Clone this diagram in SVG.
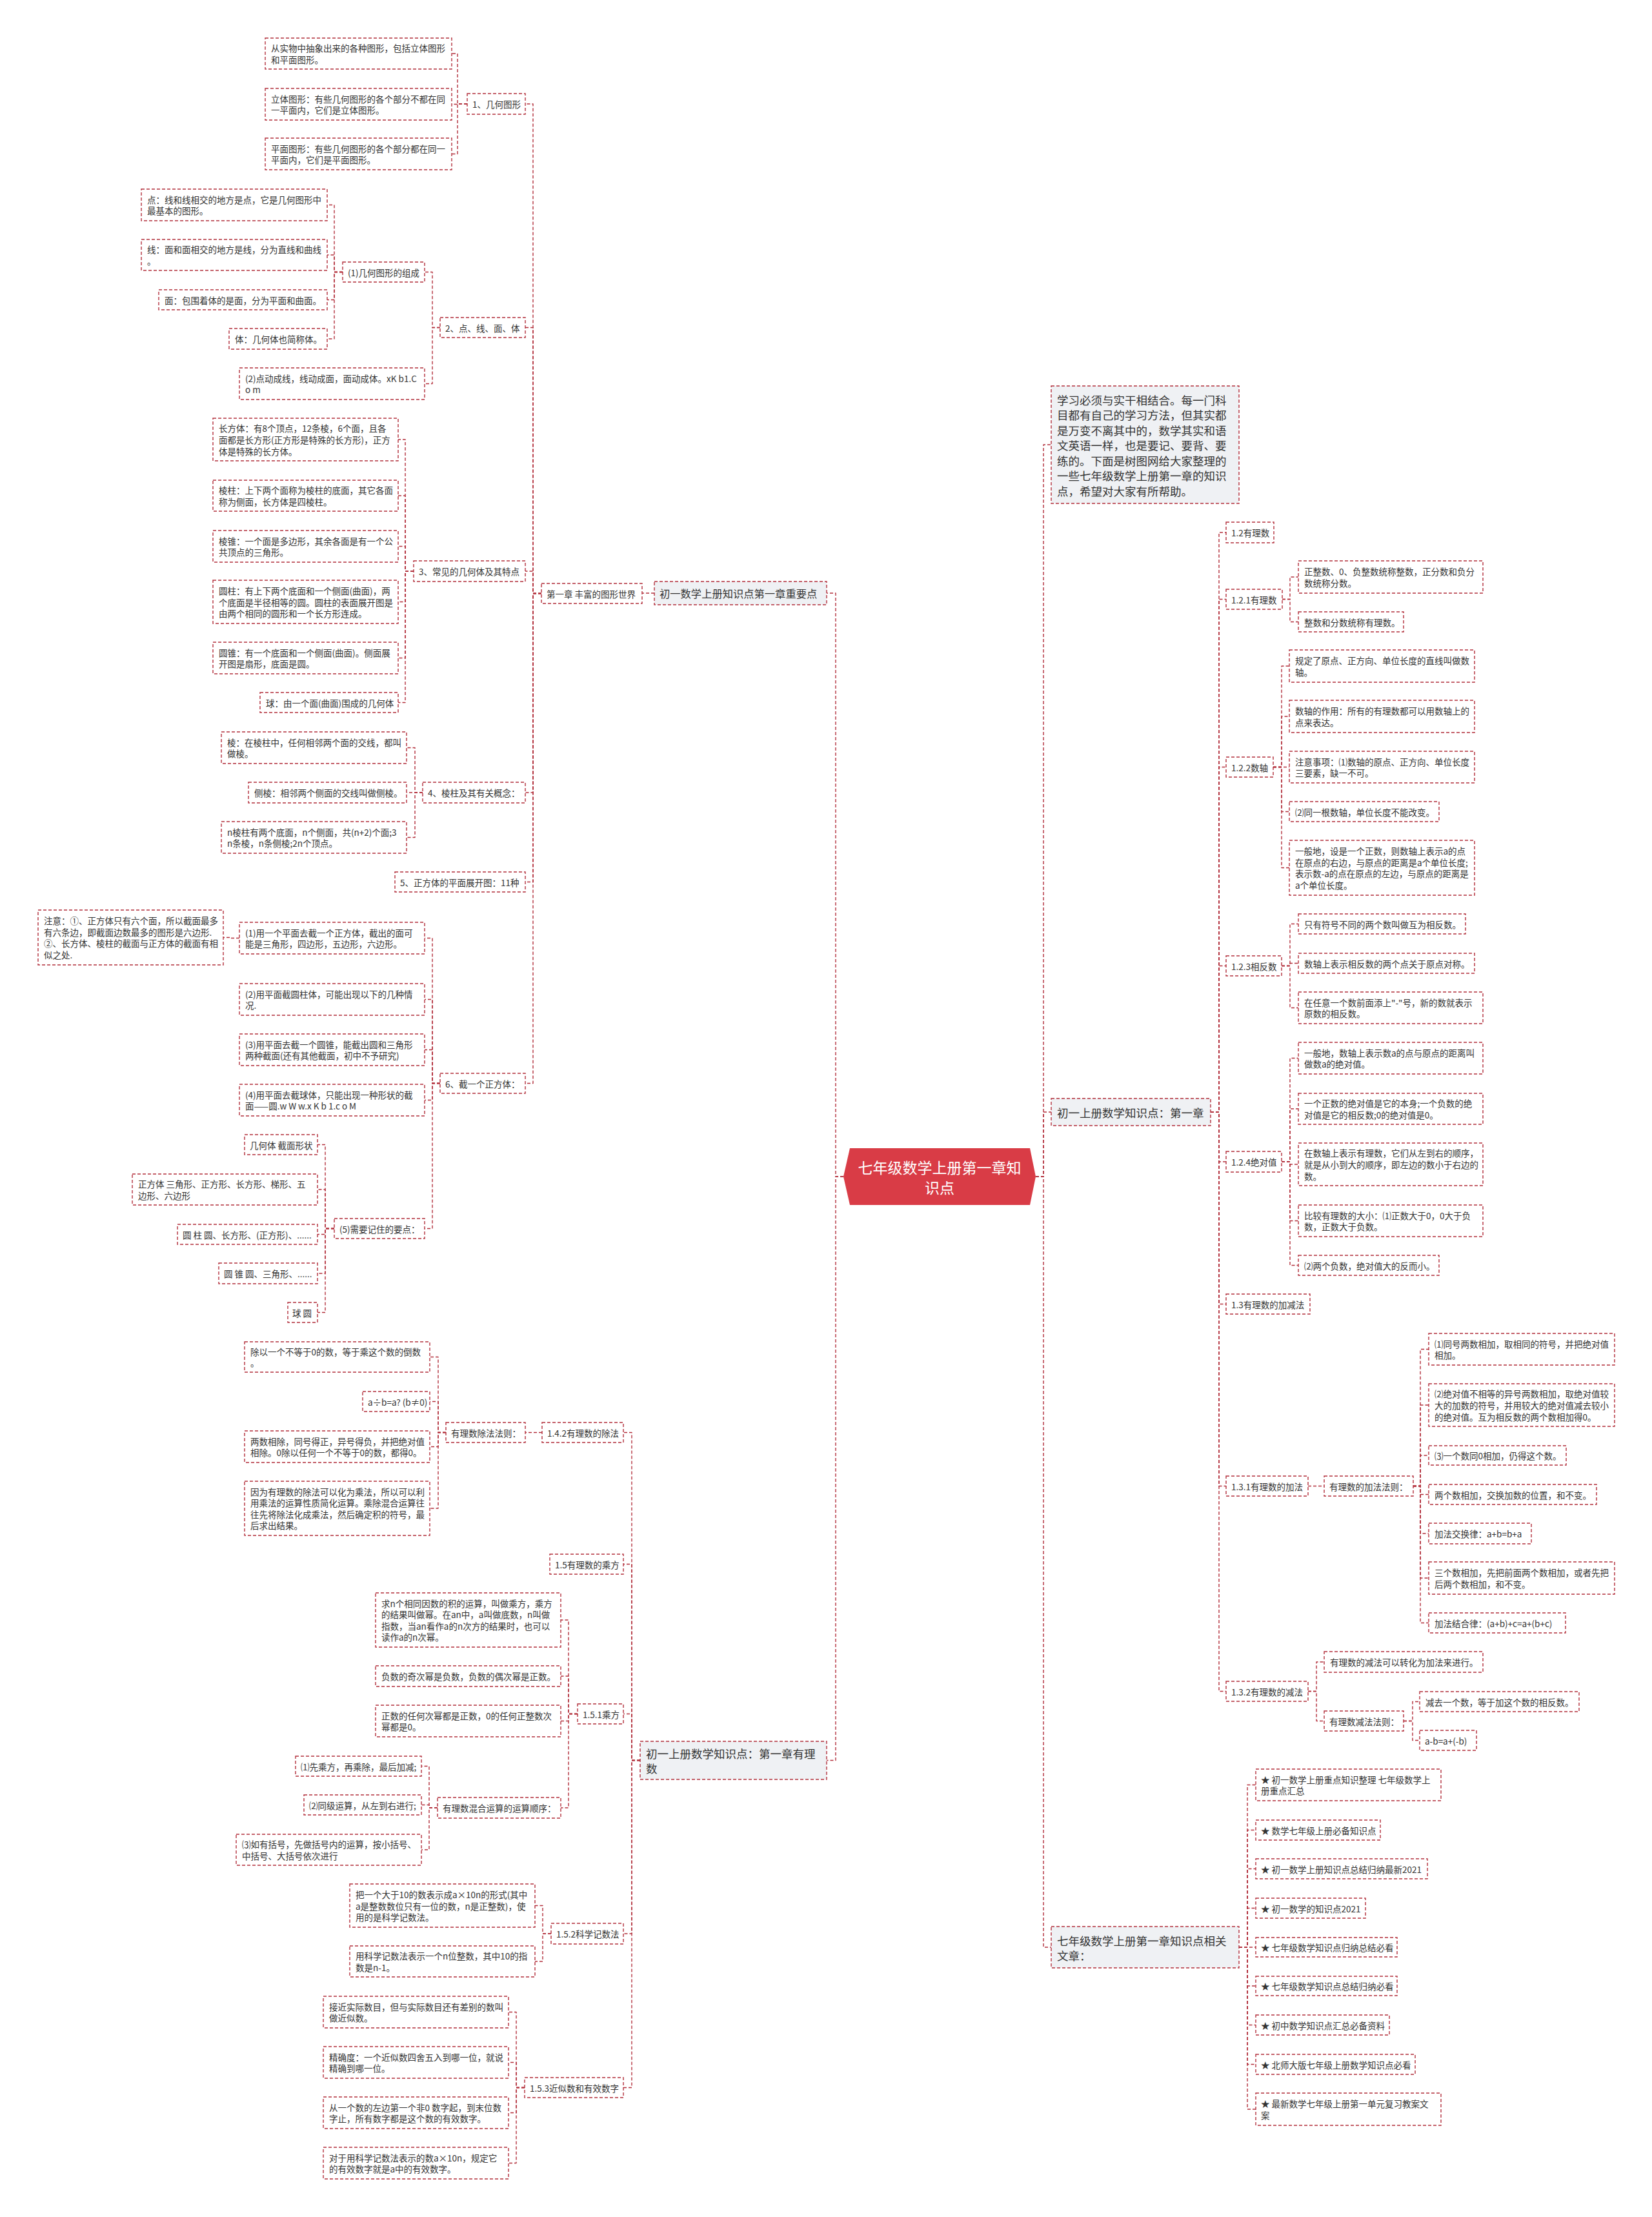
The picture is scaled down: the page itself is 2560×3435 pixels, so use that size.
<svg xmlns="http://www.w3.org/2000/svg" width="2560" height="3435" viewBox="0 0 2560 3435">
<style>
.n rect{fill:#ffffff;stroke:#b3303c;stroke-width:1.4;stroke-dasharray:5 3}
.l1 rect{fill:#eff1f4;stroke:#b3303c;stroke-width:1.4;stroke-dasharray:5 3}
text{font-family:"Noto Sans CJK SC","Noto Sans",sans-serif;fill:#333333;dominant-baseline:central}
.n text{font-size:13.5px}
.l1 text{font-size:17.5px}
.c path{fill:none;stroke:#b3303c;stroke-width:1.4;stroke-dasharray:5 3;stroke-linejoin:round}
.root text{font-size:23px;fill:#ffffff}
</style>
<rect x="0" y="0" width="2560" height="3435" fill="#ffffff"/>
<g class="c" id="connectors">
<path d="M1307 1823H1295V919H1281"/>
<path d="M1307 1823H1295V2727.5H1281"/>
<path d="M1605 1823H1617V689H1629"/>
<path d="M1605 1823H1617V1723H1629"/>
<path d="M1605 1823H1617V3017H1629"/>
<path d="M1014 919H995"/>
<path d="M839 919.5H826V161H814"/>
<path d="M839 919.5H826V507.5H814"/>
<path d="M839 919.5H826V885H814"/>
<path d="M839 919.5H826V1228H814"/>
<path d="M839 919.5H826V1366.5H814"/>
<path d="M839 919.5H826V1678.5H814"/>
<path d="M724 161H709V83H700"/>
<path d="M724 161H709V161.5H700"/>
<path d="M724 161H709V238.5H700"/>
<path d="M682 507.5H670V421.5H658"/>
<path d="M682 507.5H670V594.5H658"/>
<path d="M531 421.5H518V317.5H507"/>
<path d="M531 421.5H518V395H507"/>
<path d="M531 421.5H518V464.5H507"/>
<path d="M531 421.5H518V525H507"/>
<path d="M641 885H628V681H617"/>
<path d="M641 885H628V768H617"/>
<path d="M641 885H628V846.5H617"/>
<path d="M641 885H628V932.5H617"/>
<path d="M641 885H628V1019.5H617"/>
<path d="M641 885H628V1088.5H617"/>
<path d="M655 1228H643V1158.5H630"/>
<path d="M655 1228H643V1228H630"/>
<path d="M655 1228H643V1297.5H630"/>
<path d="M682 1678.5H670V1453.5H658"/>
<path d="M682 1678.5H670V1548.5H658"/>
<path d="M682 1678.5H670V1626.5H658"/>
<path d="M682 1678.5H670V1704.5H658"/>
<path d="M682 1678.5H670V1903.5H658"/>
<path d="M371 1453.5H358V1452.5H346"/>
<path d="M518 1903.5H504V1773.5H492"/>
<path d="M518 1903.5H504V1843H492"/>
<path d="M518 1903.5H504V1912.5H492"/>
<path d="M518 1903.5H504V1973H492"/>
<path d="M518 1903.5H504V2033.5H492"/>
<path d="M992 2727.5H979V2219.5H966"/>
<path d="M992 2727.5H979V2423.5H966"/>
<path d="M992 2727.5H979V2655.5H966"/>
<path d="M992 2727.5H979V2996H966"/>
<path d="M992 2727.5H979V3234.5H966"/>
<path d="M840 2219.5H814"/>
<path d="M691 2219.5H679V2102.5H666"/>
<path d="M691 2219.5H679V2171.5H666"/>
<path d="M691 2219.5H679V2241.5H666"/>
<path d="M691 2219.5H679V2337H666"/>
<path d="M895 2655.5H881V2510H869"/>
<path d="M895 2655.5H881V2597H869"/>
<path d="M895 2655.5H881V2666.5H869"/>
<path d="M895 2655.5H881V2801H869"/>
<path d="M678 2801H665V2736.5H653"/>
<path d="M678 2801H665V2796.5H653"/>
<path d="M678 2801H665V2866H653"/>
<path d="M854 2996H841V2952.5H829"/>
<path d="M854 2996H841V3039H829"/>
<path d="M813 3234.5H800V3117.5H788"/>
<path d="M813 3234.5H800V3195.5H788"/>
<path d="M813 3234.5H800V3273.5H788"/>
<path d="M813 3234.5H800V3351.5H788"/>
<path d="M1876 1723H1889V825H1900"/>
<path d="M1876 1723H1889V928.5H1900"/>
<path d="M1876 1723H1889V1188.5H1900"/>
<path d="M1876 1723H1889V1496.5H1900"/>
<path d="M1876 1723H1889V1800H1900"/>
<path d="M1876 1723H1889V2020.5H1900"/>
<path d="M1876 1723H1889V2302.5H1900"/>
<path d="M1876 1723H1889V2620.5H1900"/>
<path d="M1987 928.5H1999V894H2012"/>
<path d="M1987 928.5H1999V963.5H2012"/>
<path d="M1973 1188.5H1986V1032H1998"/>
<path d="M1973 1188.5H1986V1110H1998"/>
<path d="M1973 1188.5H1986V1188.5H1998"/>
<path d="M1973 1188.5H1986V1257.5H1998"/>
<path d="M1973 1188.5H1986V1344.5H1998"/>
<path d="M1986 1496.5H1999V1431.5H2012"/>
<path d="M1986 1496.5H1999V1492.5H2012"/>
<path d="M1986 1496.5H1999V1561.5H2012"/>
<path d="M1986 1800H1999V1639.5H2012"/>
<path d="M1986 1800H1999V1718H2012"/>
<path d="M1986 1800H1999V1804H2012"/>
<path d="M1986 1800H1999V1891.5H2012"/>
<path d="M1986 1800H1999V1960.5H2012"/>
<path d="M2027 2302.5H2052"/>
<path d="M2190 2302.5H2201V2090.5H2214"/>
<path d="M2190 2302.5H2201V2177H2214"/>
<path d="M2190 2302.5H2201V2255H2214"/>
<path d="M2190 2302.5H2201V2315.5H2214"/>
<path d="M2190 2302.5H2201V2376H2214"/>
<path d="M2190 2302.5H2201V2445H2214"/>
<path d="M2190 2302.5H2201V2514.5H2214"/>
<path d="M2027 2620.5H2040V2575H2052"/>
<path d="M2027 2620.5H2040V2666.5H2052"/>
<path d="M2175 2666.5H2189V2636.5H2200"/>
<path d="M2175 2666.5H2189V2696.5H2200"/>
<path d="M1920 3017H1933V2765.5H1946"/>
<path d="M1920 3017H1933V2835.5H1946"/>
<path d="M1920 3017H1933V2895.5H1946"/>
<path d="M1920 3017H1933V2956.5H1946"/>
<path d="M1920 3017H1933V3017H1946"/>
<path d="M1920 3017H1933V3077H1946"/>
<path d="M1920 3017H1933V3137.5H1946"/>
<path d="M1920 3017H1933V3198.5H1946"/>
<path d="M1920 3017H1933V3268H1946"/>
</g>

<g id="root" class="root">
<polygon points="1317,1779 1596,1779 1605,1823 1596,1867 1317,1867 1307,1823" fill="#d93c46"/>
<text x="1456" y="1808" text-anchor="middle">七年级数学上册第一章知</text>
<text x="1456" y="1839" text-anchor="middle">识点</text>
</g>

<!-- Left: chapter 1 -->
<g id="L1a" class="l1"><rect x="1014" y="901" width="267" height="36"/><text x="1022" y="919" style="font-size:16.3px">初一数学上册知识点第一章重要点</text></g>
<g id="m1" class="n"><rect x="839" y="904" width="156" height="31"/><text x="847" y="919.5">第一章 丰富的图形世界</text></g>
<g id="n1" class="n"><rect x="724" y="145" width="90" height="32"/><text x="732" y="161">1、几何图形</text></g>
<g id="a1" class="n"><rect x="411" y="59" width="289" height="48"/><text><tspan x="420" y="74.2">从实物中抽象出来的各种图形，包括立体图形</tspan><tspan x="420" y="91.8">和平面图形。</tspan></text></g>
<g id="a2" class="n"><rect x="411" y="137" width="289" height="49"/><text><tspan x="420" y="152.7">立体图形：有些几何图形的各个部分不都在同</tspan><tspan x="420" y="170.3">一平面内，它们是立体图形。</tspan></text></g>
<g id="a3" class="n"><rect x="411" y="214" width="289" height="49"/><text><tspan x="420" y="229.7">平面图形：有些几何图形的各个部分都在同一</tspan><tspan x="420" y="247.3">平面内，它们是平面图形。</tspan></text></g>
<g id="n2" class="n"><rect x="682" y="492" width="132" height="31"/><text x="690" y="507.5">2、点、线、面、体</text></g>
<g id="b1" class="n"><rect x="531" y="406" width="127" height="31"/><text x="539" y="421.5">(1)几何图形的组成</text></g>
<g id="b1a" class="n"><rect x="219" y="293" width="288" height="49"/><text><tspan x="228" y="308.7">点：线和线相交的地方是点，它是几何图形中</tspan><tspan x="228" y="326.3">最基本的图形。</tspan></text></g>
<g id="b1b" class="n"><rect x="219" y="371" width="288" height="48"/><text><tspan x="228" y="386.2">线：面和面相交的地方是线，分为直线和曲线</tspan><tspan x="228" y="403.8">。</tspan></text></g>
<g id="b1c" class="n"><rect x="246" y="449" width="261" height="31"/><text x="255" y="464.5">面：包围着体的是面，分为平面和曲面。</text></g>
<g id="b1d" class="n"><rect x="355" y="509" width="152" height="32"/><text x="364" y="525">体：几何体也简称体。</text></g>
<g id="b2" class="n"><rect x="371" y="570" width="287" height="49"/><text><tspan x="380" y="585.7">(2)点动成线，线动成面，面动成体。xK b1.C</tspan><tspan x="380" y="603.3">o m</tspan></text></g>
<g id="n3" class="n"><rect x="641" y="869" width="173" height="32"/><text x="649" y="885">3、常见的几何体及其特点</text></g>
<g id="c1" class="n"><rect x="330" y="648" width="287" height="66"/><text><tspan x="339" y="663.4">长方体：有8个顶点，12条棱，6个面，且各</tspan><tspan x="339" y="681">面都是长方形(正方形是特殊的长方形)，正方</tspan><tspan x="339" y="698.6">体是特殊的长方体。</tspan></text></g>
<g id="c2" class="n"><rect x="330" y="744" width="287" height="48"/><text><tspan x="339" y="759.2">棱柱：上下两个面称为棱柱的底面，其它各面</tspan><tspan x="339" y="776.8">称为侧面，长方体是四棱柱。</tspan></text></g>
<g id="c3" class="n"><rect x="330" y="822" width="287" height="49"/><text><tspan x="339" y="837.7">棱锥：一个面是多边形，其余各面是有一个公</tspan><tspan x="339" y="855.3">共顶点的三角形。</tspan></text></g>
<g id="c4" class="n"><rect x="330" y="899" width="287" height="67"/><text><tspan x="339" y="914.9">圆柱：有上下两个底面和一个侧面(曲面)，两</tspan><tspan x="339" y="932.5">个底面是半径相等的圆。圆柱的表面展开图是</tspan><tspan x="339" y="950.1">由两个相同的圆形和一个长方形连成。</tspan></text></g>
<g id="c5" class="n"><rect x="330" y="995" width="287" height="49"/><text><tspan x="339" y="1010.7">圆锥：有一个底面和一个侧面(曲面)。侧面展</tspan><tspan x="339" y="1028.3">开图是扇形，底面是圆。</tspan></text></g>
<g id="c6" class="n"><rect x="403" y="1073" width="214" height="31"/><text x="412" y="1088.5">球：由一个面(曲面)围成的几何体</text></g>
<g id="n4" class="n"><rect x="655" y="1212" width="159" height="32"/><text x="663" y="1228">4、棱柱及其有关概念：</text></g>
<g id="d1" class="n"><rect x="343" y="1134" width="287" height="49"/><text><tspan x="352" y="1149.7">棱：在棱柱中，任何相邻两个面的交线，都叫</tspan><tspan x="352" y="1167.3">做棱。</tspan></text></g>
<g id="d2" class="n"><rect x="385" y="1212" width="245" height="32"/><text x="394" y="1228">侧棱：相邻两个侧面的交线叫做侧棱。</text></g>
<g id="d3" class="n"><rect x="343" y="1273" width="287" height="49"/><text><tspan x="352" y="1288.7">n棱柱有两个底面，n个侧面，共(n+2)个面;3</tspan><tspan x="352" y="1306.3">n条棱，n条侧棱;2n个顶点。</tspan></text></g>
<g id="n5" class="n"><rect x="612" y="1351" width="202" height="31"/><text x="620" y="1366.5">5、正方体的平面展开图：11种</text></g>
<g id="n6" class="n"><rect x="682" y="1663" width="132" height="31"/><text x="690" y="1678.5">6、截一个正方体：</text></g>
<g id="e1" class="n"><rect x="371" y="1429" width="287" height="49"/><text><tspan x="380" y="1444.7">(1)用一个平面去截一个正方体，截出的面可</tspan><tspan x="380" y="1462.3">能是三角形，四边形，五边形，六边形。</tspan></text></g>
<g id="e1a" class="n"><rect x="59" y="1410" width="287" height="85"/><text><tspan x="68" y="1426.1">注意：①、正方体只有六个面，所以截面最多</tspan><tspan x="68" y="1443.7">有六条边，即截面边数最多的图形是六边形.</tspan><tspan x="68" y="1461.3">②、长方体、棱柱的截面与正方体的截面有相</tspan><tspan x="68" y="1478.9">似之处.</tspan></text></g>
<g id="e2" class="n"><rect x="371" y="1524" width="287" height="49"/><text><tspan x="380" y="1539.7">(2)用平面截圆柱体，可能出现以下的几种情</tspan><tspan x="380" y="1557.3">况.</tspan></text></g>
<g id="e3" class="n"><rect x="371" y="1602" width="287" height="49"/><text><tspan x="380" y="1617.7">(3)用平面去截一个圆锥，能截出圆和三角形</tspan><tspan x="380" y="1635.3">两种截面(还有其他截面，初中不予研究)</tspan></text></g>
<g id="e4" class="n"><rect x="371" y="1680" width="287" height="49"/><text><tspan x="380" y="1695.7">(4)用平面去截球体，只能出现一种形状的截</tspan><tspan x="380" y="1713.3">面——圆.w W w.x K b 1.c o M</tspan></text></g>
<g id="e5" class="n"><rect x="518" y="1888" width="140" height="31"/><text x="526" y="1903.5">(5)需要记住的要点：</text></g>
<g id="f1" class="n"><rect x="379" y="1758" width="113" height="31"/><text x="387" y="1773.5">几何体 截面形状</text></g>
<g id="f2" class="n"><rect x="205" y="1819" width="287" height="48"/><text><tspan x="214" y="1834.2">正方体 三角形、正方形、长方形、梯形、五</tspan><tspan x="214" y="1851.8">边形、六边形</tspan></text></g>
<g id="f3" class="n"><rect x="275" y="1897" width="217" height="31"/><text x="283" y="1912.5">圆 柱 圆、长方形、(正方形)、......</text></g>
<g id="f4" class="n"><rect x="339" y="1957" width="153" height="32"/><text x="347" y="1973">圆 锥 圆、三角形、......</text></g>
<g id="f5" class="n"><rect x="446" y="2018" width="46" height="31"/><text x="453" y="2033.5">球 圆</text></g>

<!-- Left: rational numbers -->
<g id="L1b" class="l1"><rect x="992" y="2698" width="289" height="59"/><text><tspan x="1001" y="2716">初一上册数学知识点：第一章有理</tspan><tspan x="1001" y="2739">数</tspan></text></g>
<g id="g1" class="n"><rect x="840" y="2204" width="126" height="31"/><text x="848" y="2219.5">1.4.2有理数的除法</text></g>
<g id="g1a" class="n"><rect x="691" y="2204" width="123" height="31"/><text x="699" y="2219.5">有理数除法法则：</text></g>
<g id="g1a1" class="n"><rect x="379" y="2079" width="287" height="47"/><text><tspan x="388" y="2093.7">除以一个不等于0的数，等于乘这个数的倒数</tspan><tspan x="388" y="2111.3">。</tspan></text></g>
<g id="g1a2" class="n"><rect x="562" y="2156" width="104" height="31"/><text x="570" y="2171.5">a÷b=a? (b≠0)</text></g>
<g id="g1a3" class="n"><rect x="379" y="2217" width="287" height="49"/><text><tspan x="388" y="2232.7">两数相除，同号得正，异号得负，并把绝对值</tspan><tspan x="388" y="2250.3">相除。0除以任何一个不等于0的数，都得0。</tspan></text></g>
<g id="g1a4" class="n"><rect x="379" y="2295" width="287" height="84"/><text><tspan x="388" y="2310.6">因为有理数的除法可以化为乘法，所以可以利</tspan><tspan x="388" y="2328.2">用乘法的运算性质简化运算。乘除混合运算往</tspan><tspan x="388" y="2345.8">往先将除法化成乘法，然后确定积的符号，最</tspan><tspan x="388" y="2363.4">后求出结果。</tspan></text></g>
<g id="g2" class="n"><rect x="852" y="2408" width="114" height="31"/><text x="860" y="2423.5">1.5有理数的乘方</text></g>
<g id="g3" class="n"><rect x="895" y="2640" width="71" height="31"/><text x="903" y="2655.5">1.5.1乘方</text></g>
<g id="g3a" class="n"><rect x="582" y="2468" width="287" height="84"/><text><tspan x="591" y="2483.6">求n个相同因数的积的运算，叫做乘方，乘方</tspan><tspan x="591" y="2501.2">的结果叫做幂。在an中，a叫做底数，n叫做</tspan><tspan x="591" y="2518.8">指数，当an看作a的n次方的结果时，也可以</tspan><tspan x="591" y="2536.4">读作a的n次幂。</tspan></text></g>
<g id="g3b" class="n"><rect x="582" y="2581" width="287" height="32"/><text x="591" y="2597">负数的奇次幂是负数，负数的偶次幂是正数。</text></g>
<g id="g3c" class="n"><rect x="582" y="2642" width="287" height="49"/><text><tspan x="591" y="2657.7">正数的任何次幂都是正数，0的任何正整数次</tspan><tspan x="591" y="2675.3">幂都是0。</tspan></text></g>
<g id="g3d" class="n"><rect x="678" y="2785" width="191" height="32"/><text x="686" y="2801">有理数混合运算的运算顺序：</text></g>
<g id="g3d1" class="n"><rect x="458" y="2721" width="195" height="31"/><text x="466" y="2736.5">⑴先乘方，再乘除，最后加减;</text></g>
<g id="g3d2" class="n"><rect x="471" y="2781" width="182" height="31"/><text x="479" y="2796.5">⑵同级运算，从左到右进行;</text></g>
<g id="g3d3" class="n"><rect x="366" y="2842" width="287" height="48"/><text><tspan x="375" y="2857.2">⑶如有括号，先做括号内的运算，按小括号、</tspan><tspan x="375" y="2874.8">中括号、大括号依次进行</tspan></text></g>
<g id="g4" class="n"><rect x="854" y="2980" width="112" height="32"/><text x="862" y="2996">1.5.2科学记数法</text></g>
<g id="g4a" class="n"><rect x="542" y="2919" width="287" height="67"/><text><tspan x="551" y="2934.9">把一个大于10的数表示成a×10n的形式(其中</tspan><tspan x="551" y="2952.5">a是整数数位只有一位的数，n是正整数)，使</tspan><tspan x="551" y="2970.1">用的是科学记数法。</tspan></text></g>
<g id="g4b" class="n"><rect x="542" y="3015" width="287" height="48"/><text><tspan x="551" y="3030.2">用科学记数法表示一个n位整数，其中10的指</tspan><tspan x="551" y="3047.8">数是n-1。</tspan></text></g>
<g id="g5" class="n"><rect x="813" y="3219" width="153" height="31"/><text x="821" y="3234.5">1.5.3近似数和有效数字</text></g>
<g id="g5a" class="n"><rect x="501" y="3093" width="287" height="49"/><text><tspan x="510" y="3108.7">接近实际数目，但与实际数目还有差别的数叫</tspan><tspan x="510" y="3126.3">做近似数。</tspan></text></g>
<g id="g5b" class="n"><rect x="501" y="3171" width="287" height="49"/><text><tspan x="510" y="3186.7">精确度：一个近似数四舍五入到哪一位，就说</tspan><tspan x="510" y="3204.3">精确到哪一位。</tspan></text></g>
<g id="g5c" class="n"><rect x="501" y="3249" width="287" height="49"/><text><tspan x="510" y="3264.7">从一个数的左边第一个非0 数字起，到末位数</tspan><tspan x="510" y="3282.3">字止，所有数字都是这个数的有效数字。</tspan></text></g>
<g id="g5d" class="n"><rect x="501" y="3327" width="287" height="49"/><text><tspan x="510" y="3342.7">对于用科学记数法表示的数a×10n，规定它</tspan><tspan x="510" y="3360.3">的有效数字就是a中的有效数字。</tspan></text></g>

<!-- Right -->
<g id="intro" class="l1"><rect x="1629" y="598" width="291" height="182"/><text><tspan x="1638" y="618.5">学习必须与实干相结合。每一门科</tspan><tspan x="1638" y="642">目都有自己的学习方法，但其实都</tspan><tspan x="1638" y="665.5">是万变不离其中的，数学其实和语</tspan><tspan x="1638" y="689">文英语一样，也是要记、要背、要</tspan><tspan x="1638" y="712.5">练的。下面是树图网给大家整理的</tspan><tspan x="1638" y="736">一些七年级数学上册第一章的知识</tspan><tspan x="1638" y="759.5">点，希望对大家有所帮助。</tspan></text></g>
<g id="R1" class="l1"><rect x="1629" y="1702" width="247" height="42"/><text x="1638" y="1723">初一上册数学知识点：第一章</text></g>
<g id="r1" class="n"><rect x="1900" y="809" width="74" height="32"/><text x="1908" y="825">1.2有理数</text></g>
<g id="r2" class="n"><rect x="1900" y="913" width="87" height="31"/><text x="1908" y="928.5">1.2.1有理数</text></g>
<g id="r2a" class="n"><rect x="2012" y="869" width="286" height="50"/><text><tspan x="2021" y="885.2">正整数、0、负整数统称整数，正分数和负分</tspan><tspan x="2021" y="902.8">数统称分数。</tspan></text></g>
<g id="r2b" class="n"><rect x="2012" y="948" width="163" height="31"/><text x="2021" y="963.5">整数和分数统称有理数。</text></g>
<g id="r3" class="n"><rect x="1900" y="1173" width="73" height="31"/><text x="1908" y="1188.5">1.2.2数轴</text></g>
<g id="r3a" class="n"><rect x="1998" y="1007" width="287" height="50"/><text><tspan x="2007" y="1023.2">规定了原点、正方向、单位长度的直线叫做数</tspan><tspan x="2007" y="1040.8">轴。</tspan></text></g>
<g id="r3b" class="n"><rect x="1998" y="1085" width="287" height="50"/><text><tspan x="2007" y="1101.2">数轴的作用：所有的有理数都可以用数轴上的</tspan><tspan x="2007" y="1118.8">点来表达。</tspan></text></g>
<g id="r3c" class="n"><rect x="1998" y="1164" width="287" height="49"/><text><tspan x="2007" y="1179.7">注意事项：⑴数轴的原点、正方向、单位长度</tspan><tspan x="2007" y="1197.3">三要素，缺一不可。</tspan></text></g>
<g id="r3d" class="n"><rect x="1998" y="1242" width="232" height="31"/><text x="2007" y="1257.5">⑵同一根数轴，单位长度不能改变。</text></g>
<g id="r3e" class="n"><rect x="1998" y="1302" width="287" height="85"/><text><tspan x="2007" y="1318.1">一般地，设是一个正数，则数轴上表示a的点</tspan><tspan x="2007" y="1335.7">在原点的右边，与原点的距离是a个单位长度;</tspan><tspan x="2007" y="1353.3">表示数-a的点在原点的左边，与原点的距离是</tspan><tspan x="2007" y="1370.9">a个单位长度。</tspan></text></g>
<g id="r4" class="n"><rect x="1900" y="1481" width="86" height="31"/><text x="1908" y="1496.5">1.2.3相反数</text></g>
<g id="r4a" class="n"><rect x="2012" y="1416" width="259" height="31"/><text x="2021" y="1431.5">只有符号不同的两个数叫做互为相反数。</text></g>
<g id="r4b" class="n"><rect x="2012" y="1477" width="273" height="31"/><text x="2021" y="1492.5">数轴上表示相反数的两个点关于原点对称。</text></g>
<g id="r4c" class="n"><rect x="2012" y="1537" width="286" height="49"/><text><tspan x="2021" y="1552.7">在任意一个数前面添上"-"号，新的数就表示</tspan><tspan x="2021" y="1570.3">原数的相反数。</tspan></text></g>
<g id="r5" class="n"><rect x="1900" y="1784" width="86" height="32"/><text x="1908" y="1800">1.2.4绝对值</text></g>
<g id="r5a" class="n"><rect x="2012" y="1615" width="286" height="49"/><text><tspan x="2021" y="1630.7">一般地，数轴上表示数a的点与原点的距离叫</tspan><tspan x="2021" y="1648.3">做数a的绝对值。</tspan></text></g>
<g id="r5b" class="n"><rect x="2012" y="1694" width="286" height="48"/><text><tspan x="2021" y="1709.2">一个正数的绝对值是它的本身;一个负数的绝</tspan><tspan x="2021" y="1726.8">对值是它的相反数;0的绝对值是0。</tspan></text></g>
<g id="r5c" class="n"><rect x="2012" y="1771" width="286" height="66"/><text><tspan x="2021" y="1786.4">在数轴上表示有理数，它们从左到右的顺序，</tspan><tspan x="2021" y="1804">就是从小到大的顺序，即左边的数小于右边的</tspan><tspan x="2021" y="1821.6">数。</tspan></text></g>
<g id="r5d" class="n"><rect x="2012" y="1867" width="286" height="49"/><text><tspan x="2021" y="1882.7">比较有理数的大小：⑴正数大于0，0大于负</tspan><tspan x="2021" y="1900.3">数，正数大于负数。</tspan></text></g>
<g id="r5e" class="n"><rect x="2012" y="1945" width="218" height="31"/><text x="2021" y="1960.5">⑵两个负数，绝对值大的反而小。</text></g>
<g id="r6" class="n"><rect x="1900" y="2005" width="130" height="31"/><text x="1908" y="2020.5">1.3有理数的加减法</text></g>
<g id="r7" class="n"><rect x="1900" y="2287" width="127" height="31"/><text x="1908" y="2302.5">1.3.1有理数的加法</text></g>
<g id="r7a" class="n"><rect x="2052" y="2287" width="138" height="31"/><text x="2060" y="2302.5">有理数的加法法则：</text></g>
<g id="r7a1" class="n"><rect x="2214" y="2066" width="288" height="49"/><text><tspan x="2223" y="2081.7">⑴同号两数相加，取相同的符号，并把绝对值</tspan><tspan x="2223" y="2099.3">相加。</tspan></text></g>
<g id="r7a2" class="n"><rect x="2214" y="2144" width="288" height="66"/><text><tspan x="2223" y="2159.4">⑵绝对值不相等的异号两数相加，取绝对值较</tspan><tspan x="2223" y="2177">大的加数的符号，并用较大的绝对值减去较小</tspan><tspan x="2223" y="2194.6">的绝对值。互为相反数的两个数相加得0。</tspan></text></g>
<g id="r7a3" class="n"><rect x="2214" y="2240" width="213" height="30"/><text x="2223" y="2255">⑶一个数同0相加，仍得这个数。</text></g>
<g id="r7a4" class="n"><rect x="2214" y="2300" width="260" height="31"/><text x="2223" y="2315.5">两个数相加，交换加数的位置，和不变。</text></g>
<g id="r7a5" class="n"><rect x="2214" y="2360" width="159" height="32"/><text x="2223" y="2376">加法交换律：a+b=b+a</text></g>
<g id="r7a6" class="n"><rect x="2214" y="2420" width="288" height="50"/><text><tspan x="2223" y="2436.2">三个数相加，先把前面两个数相加，或者先把</tspan><tspan x="2223" y="2453.8">后两个数相加，和不变。</tspan></text></g>
<g id="r7a7" class="n"><rect x="2214" y="2499" width="212" height="31"/><text x="2223" y="2514.5">加法结合律：(a+b)+c=a+(b+c)</text></g>
<g id="r8" class="n"><rect x="1900" y="2605" width="127" height="31"/><text x="1908" y="2620.5">1.3.2有理数的减法</text></g>
<g id="r8a" class="n"><rect x="2052" y="2559" width="246" height="32"/><text x="2061" y="2575">有理数的减法可以转化为加法来进行。</text></g>
<g id="r8b" class="n"><rect x="2052" y="2651" width="123" height="31"/><text x="2060" y="2666.5">有理数减法法则：</text></g>
<g id="r8b1" class="n"><rect x="2200" y="2621" width="247" height="31"/><text x="2209" y="2636.5">减去一个数，等于加这个数的相反数。</text></g>
<g id="r8b2" class="n"><rect x="2200" y="2681" width="88" height="31"/><text x="2208" y="2696.5">a-b=a+(-b)</text></g>
<g id="rel" class="l1"><rect x="1629" y="2985" width="291" height="64"/><text><tspan x="1638" y="3005.5">七年级数学上册第一章知识点相关</tspan><tspan x="1638" y="3028.5">文章：</tspan></text></g>
<g id="rl1" class="n"><rect x="1946" y="2741" width="287" height="49"/><text><tspan x="1954" y="2756.7">★ 初一数学上册重点知识整理 七年级数学上</tspan><tspan x="1954" y="2774.3">册重点汇总</tspan></text></g>
<g id="rl2" class="n"><rect x="1946" y="2820" width="193" height="31"/><text x="1954" y="2835.5">★ 数学七年级上册必备知识点</text></g>
<g id="rl3" class="n"><rect x="1946" y="2880" width="266" height="31"/><text x="1954" y="2895.5">★ 初一数学上册知识点总结归纳最新2021</text></g>
<g id="rl4" class="n"><rect x="1946" y="2941" width="170" height="31"/><text x="1954" y="2956.5">★ 初一数学的知识点2021</text></g>
<g id="rl5" class="n"><rect x="1946" y="3002" width="219" height="30"/><text x="1954" y="3017">★ 七年级数学知识点归纳总结必看</text></g>
<g id="rl6" class="n"><rect x="1946" y="3062" width="219" height="30"/><text x="1954" y="3077">★ 七年级数学知识点总结归纳必看</text></g>
<g id="rl7" class="n"><rect x="1946" y="3122" width="207" height="31"/><text x="1954" y="3137.5">★ 初中数学知识点汇总必备资料</text></g>
<g id="rl8" class="n"><rect x="1946" y="3183" width="247" height="31"/><text x="1954" y="3198.5">★ 北师大版七年级上册数学知识点必看</text></g>
<g id="rl9" class="n"><rect x="1946" y="3243" width="287" height="50"/><text><tspan x="1954" y="3259.2">★ 最新数学七年级上册第一单元复习教案文</tspan><tspan x="1954" y="3276.8">案</tspan></text></g>
</svg>
